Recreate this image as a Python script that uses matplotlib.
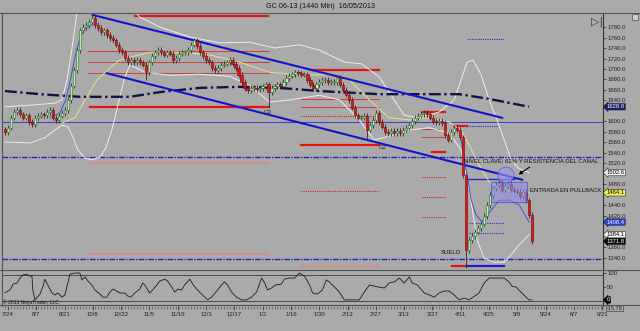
import numpy as np
import matplotlib
matplotlib.use("Agg")
import matplotlib.pyplot as plt
from matplotlib.patches import Rectangle, Ellipse
from matplotlib.lines import Line2D

plt.rcParams['font.family'] = ['Liberation Sans', 'DejaVu Sans']

# --- data (GC 06-13, daily bars) ---
closes = [1580, 1588, 1607, 1618, 1622, 1614, 1607, 1612, 1599, 1595,
          1607, 1611, 1614, 1612, 1618, 1622, 1607, 1603, 1611, 1616,
          1622, 1641, 1668, 1698, 1736, 1774, 1780, 1784, 1790, 1797,
          1784, 1778, 1770, 1774, 1765, 1759, 1755, 1746, 1736, 1732,
          1721, 1713, 1717, 1713, 1717, 1713, 1708, 1694, 1713, 1725,
          1732, 1736, 1732, 1727, 1732, 1729, 1717, 1721, 1729, 1732,
          1732, 1736, 1746, 1755, 1744, 1732, 1725, 1717, 1713, 1702,
          1698, 1702, 1708, 1710, 1713, 1717, 1710, 1702, 1689, 1675,
          1664, 1660, 1664, 1664, 1662, 1664, 1667, 1671, 1656, 1664,
          1667, 1671, 1667, 1675, 1683, 1687, 1690, 1694, 1692, 1689,
          1690, 1679, 1670, 1664, 1671, 1675, 1679, 1679, 1675, 1675,
          1675, 1683, 1670, 1660, 1651, 1641, 1626, 1612, 1607, 1607,
          1611, 1584, 1593, 1603, 1616, 1599, 1590, 1580, 1578, 1582,
          1578, 1582, 1578, 1584, 1588, 1593, 1601, 1607, 1611, 1614,
          1616, 1614, 1607, 1601, 1599, 1601, 1597, 1574, 1565, 1580,
          1588, 1584, 1570, 1498, 1355, 1374, 1382, 1390, 1397, 1405,
          1420, 1441, 1460, 1473, 1479, 1483, 1470, 1477, 1481, 1470,
          1468, 1466, 1458, 1466, 1450, 1422, 1371.8]
first_open = 1585
low_spikes = {47: 1679, 88: 1626, 121: 1564, 154: 1321}

# indicator curves (bar index, price)
ma_x = [0, 11.7, 25, 41.7, 51.7, 65, 78.3, 91.7, 105, 125, 151.7, 161.7, 175]
ma_y = [1658, 1652, 1647, 1647, 1656, 1664, 1666, 1664, 1658, 1652, 1652, 1643, 1628]

bb_up_x = [0, 8.3, 16.7, 19, 20.7, 22.3, 24, 28, 34, 40, 45, 51.7, 61.7, 71.7, 81.7, 90,
           98.3, 105, 113.3, 119, 125, 129.3, 133.3, 138.3, 145, 150, 152.3, 154.3,
           156.3, 159, 161.7, 164.3, 166.7, 169, 171.7, 175]
bb_up_y = [1628, 1631, 1635, 1641, 1679, 1736, 1807, 1850, 1860, 1830, 1799, 1780, 1761,
           1750, 1751, 1740, 1746, 1736, 1713, 1710, 1685, 1647, 1612, 1607, 1618, 1641,
           1679, 1713, 1717, 1689, 1641, 1603, 1565, 1527, 1510, 1502.6]
bb_lo_x = [0, 8.3, 13.3, 16.7, 19, 21, 22.7, 24.3, 26.7, 29, 31.7, 33.7, 35.7, 37.7, 39.7,
           41.7, 46.7, 55, 65, 75, 81.7, 88.3, 95, 105, 111.7, 118.3, 123.3, 130, 135,
           141.7, 148.3, 152.3, 155, 157.7, 160, 163.3, 166.7, 169, 171.7, 175]
bb_lo_y = [1561, 1559, 1569, 1584, 1593, 1590, 1570, 1546, 1530, 1527, 1532, 1550, 1584,
           1631, 1679, 1708, 1694, 1688, 1690, 1686, 1669, 1637, 1641, 1650, 1641, 1603,
           1565, 1574, 1584, 1588, 1578, 1546, 1470, 1374, 1340, 1332, 1332, 1346, 1365, 1384.1]
bb_mid_x = [19, 23.3, 26.7, 30.7, 35, 38.3, 48.3, 58.3, 68.3, 78.3, 88.3, 98.3, 108.3, 115,
            121.7, 128.3, 135, 141.7, 148.3, 152.3, 155, 158.3, 161.7, 166.7, 171.7, 175]
bb_mid_y = [1597, 1607, 1641, 1679, 1702, 1717, 1732, 1732, 1727, 1713, 1694, 1689, 1689,
            1679, 1641, 1607, 1603, 1607, 1599, 1584, 1555, 1517, 1485, 1470, 1466, 1464.1]
fast_a_x = [15, 18.3, 20.3, 22, 23.7, 25.3, 27.3, 30]
fast_a_y = [1607, 1616, 1641, 1683, 1732, 1763, 1780, 1786]
fast_b_x = [152.3, 154, 155.7, 157.3, 159.3, 161.7, 165, 168.3, 171.7, 175]
fast_b_y = [1565, 1508, 1450, 1422, 1409, 1426, 1450, 1450, 1441, 1408.4]

# channel (bar, price)
chan_top = [(29.3, 1803), (166, 1607)]
chan_bot = [(34, 1692), (172.7, 1489)]

# horizontal levels: price, from bar, to bar, kind
levels = [
    (1801, 43.3, 87.7, 'thick'), (1734, 27.7, 88.3, 'thin'), (1713, 27.7, 88.3, 'thin'),
    (1692, 27.7, 88.3, 'thin'), (1628, 28.3, 87.7, 'thick'), (1521, 28.3, 87.7, 'pink'),
    (1348, 27.7, 87.7, 'pink'),
    (1698, 102.3, 125, 'thick'), (1643, 99, 125, 'thin'), (1628, 99, 125, 'thin'),
    (1610, 99, 125, 'dot'), (1555, 99, 125, 'thick'), (1468, 99, 125, 'dot'),
    (1325, 99, 125, 'pink'),
    (1618, 139.3, 147, 'thick'), (1586, 139.3, 145, 'thin'), (1571, 139.3, 147, 'thin'),
    (1542, 142.7, 147, 'thick'), (1494, 139.3, 147.3, 'dot'), (1456, 139.3, 147.3, 'dot'),
    (1418, 139.3, 147.3, 'dot'),
    (1591, 150, 154.3, 'thick'), (1591, 154.3, 164.3, 'bluedot'),
    (1407, 155, 166.7, 'bluedot'), (1388, 155, 166.7, 'bluedot'),
    (1325, 149.3, 154.3, 'thick'), (1325, 154.3, 166.7, 'bluethick'),
    (1490, 154, 170, 'blue'), (1757, 154.3, 166.7, 'bluedot'),
]
full_levels = [(1599, 'bluefull'), (1532, 'bluedash'), (1338, 'bluedash')]

badge_vals = [1628.0, 1502.6, 1464.1, 1408.4, 1384.1, 1371.8]
badge_fc = ['#1c1c6e', '#f4f4f4', '#f2f25a', '#2a3fd6', '#f4f4f4', '#080808']
badge_tc = ['white', 'black', 'black', 'white', 'black', 'white']

# price ticks hidden behind the value badges
price_ticks = [1340, 1360, 1420, 1440, 1480, 1520, 1540, 1560, 1580, 1600, 1640,
               1660, 1680, 1700, 1720, 1740, 1760, 1780]

# oscillator
osc_x = [0, 1.7, 2.7, 4, 5, 6, 7.3, 8.3, 9, 9.3, 10, 11.7, 12.7, 13.3, 14.3, 15.7, 16.7,
         17.7, 19, 20, 21.7, 23.3, 25, 25.7, 26.7, 27.7, 29, 30, 31.7, 32.7, 34, 35, 36,
         37.3, 38.3, 40, 41, 42, 43.3, 45, 46, 46.7, 48.3, 49.3, 50.7, 51.7, 53.3, 54.3,
         55.7, 56.7, 57.7, 59, 60, 61.7, 62.7, 64, 65, 66.7, 67.7, 69, 71, 72.3, 73.3,
         74.3, 75.7, 77.3, 79, 80.7, 82.3, 84, 85.7, 86.7, 87.7, 89, 90.3, 92.3, 93.3, 95,
         96.7, 98.3, 100, 101.7, 102.7, 104.3, 106, 107.3, 108.3, 109.3, 110.7, 111.7,
         113.3, 118.3, 120, 121.7, 123.3, 125, 126.7, 128.3, 130, 131.7, 133.3, 135, 136,
         137.7, 140, 141.7, 143.3, 145, 146.7, 148.3, 150, 151.7, 153.3, 155, 158.3, 160,
         161.7, 166.7, 168.3, 169.3, 170.7, 172.3, 174, 175, 176]
osc_v = [29, 39, 60, 64, 82, 93, 96, 89, 89, 39, 3, 24, 53, 78, 57, 28, 21, 28, 13, 21, 96,
         100, 100, 75, 86, 71, 57, 39, 24, 13, 13, 31, 42, 35, 28, 28, 17, 13, 28, 42, 64,
         57, 28, 39, 57, 71, 78, 71, 49, 31, 42, 39, 57, 78, 60, 42, 31, 13, 3, 13, 39, 57,
         68, 57, 31, 13, 3, 3, 13, 31, 82, 64, 39, 46, 57, 60, 78, 82, 82, 100, 89, 57, 28,
         24, 39, 75, 68, 57, 42, 31, 3, 3, 31, 57, 53, 49, 46, 64, 68, 82, 64, 86, 64, 57,
         28, 21, 13, 28, 35, 35, 21, 3, 10, 3, 28, 64, 82, 82, 68, 53, 49, 31, 13, 3, 3]

date_labels = ['7/24', '8/7', '8/21', '10/8', '10/22', '11/5', '11/19', '12/3', '12/17',
               '1/2', '1/16', '1/30', '2/13', '2/27', '3/13', '3/27', '4/11', '4/25',
               '5/9', '5/24', '6/7', '6/21']

# --- figure ---
BG = '#aaaaaa'
W, H = 640, 331
fig = plt.figure(figsize=(W / 100, H / 100), dpi=100, facecolor=BG)


def box(x0, y0, x1, y1):
    return [x0 / W, 1 - y1 / H, (x1 - x0) / W, (y1 - y0) / H]


ax = fig.add_axes(box(2, 13, 603, 270))
osc = fig.add_axes(box(2, 270, 603, 306), sharex=ax)
for a in (ax, osc):
    a.set_facecolor(BG)
    for s in ('top', 'bottom'):
        a.spines[s].set_visible(False)
    a.spines['left'].set_color('#555555')
    a.spines['right'].set_color('#333333')
    a.spines['left'].set_linewidth(0.8)
    a.spines['right'].set_linewidth(0.8)

n = len(closes)
idx = np.arange(n)
c = np.array(closes, dtype=float)
o = np.concatenate([[first_open], c[:-1]])
hi = np.maximum(o, c) + 5
lo = np.minimum(o, c) - 5
for k, v in low_spikes.items():
    lo[k] = v
body_lo = np.minimum(o, c)
body_h = np.maximum(np.abs(c - o), 2.0)
up = c >= o

# levels
styles = {
    'thick': dict(color='#e31414', lw=1.6, ls='-'),
    'thin': dict(color='#d23c3c', lw=0.7, ls='-'),
    'pink': dict(color='#d88a8a', lw=1.3, ls='-'),
    'dot': dict(color='#d52020', lw=0.8, ls=(0, (1, 1))),
    'bluedot': dict(color='#2a2ad0', lw=0.8, ls=(0, (1, 1))),
    'bluethick': dict(color='#1a1ad0', lw=1.6, ls='-'),
    'blue': dict(color='#2a2ad8', lw=1.0, ls='-'),
    'bluefull': dict(color='#3a3ac8', lw=0.7, ls='-'),
    'bluedash': dict(color='#2222cc', lw=1.0, ls=(0, (4, 1, 1, 1))),
}
for price, x0, x1, kind in levels:
    ax.plot([x0, x1], [price, price], zorder=2, **styles[kind])
for price, kind in full_levels:
    ax.axhline(price, zorder=2, **styles[kind])

# bands and averages
ax.plot(bb_up_x, bb_up_y, color='#eeeeee', lw=0.7, zorder=2)
ax.plot(bb_lo_x, bb_lo_y, color='#eeeeee', lw=0.7, zorder=2)
ax.plot(bb_mid_x, bb_mid_y, color='#e6e08a', lw=0.7, zorder=2)
ax.plot(fast_a_x, fast_a_y, color='#4050d8', lw=0.7, zorder=5)
ax.plot(fast_b_x, fast_b_y, color='#4050d8', lw=0.7, zorder=5)
ax.plot(ma_x, ma_y, color='#12124a', lw=1.7, ls=(0, (5, 1.5, 1, 1.5)), zorder=3)

# channel
for seg in (chan_top, chan_bot):
    xs, ys = zip(*seg)
    ax.plot(xs, ys, color='#1515c8', lw=1.5, zorder=3)

# candles
ax.vlines(idx, lo, hi, color='#2a2a2a', lw=0.6, zorder=4)
ax.bar(idx[up], body_h[up], bottom=body_lo[up], width=0.72, color='#bfe8b6',
       edgecolor='#2f6f2f', linewidth=0.4, zorder=5)
ax.bar(idx[~up], body_h[~up], bottom=body_lo[~up], width=0.72, color='#d21a1a',
       edgecolor='#7a0000', linewidth=0.4, zorder=5)

# annotations
ax.add_patch(Rectangle((162.3, 1447), 12, 38, fc='#8c8cf0', ec='#3a3ad8', lw=0.8,
                       alpha=0.55, zorder=6))
ax.add_patch(Ellipse((167.3, 1498), 5.4, 30, fc='#9a9af0', ec='#4a4ae0', lw=0.7,
                     alpha=0.6, zorder=6))
ax.annotate('', xy=(170.7, 1496), xytext=(176, 1516),
            arrowprops=dict(arrowstyle='-|>', color='black', lw=0.8, mutation_scale=5),
            zorder=7)
tk = dict(fontsize=4.3, color='#111111', zorder=8)
ax.text(153.3, 1523, 'NIVEL CLAVE: 62% Y RESISTENCIA DEL CANAL', ha='left', va='center', **tk)
ax.text(175.2, 1468, 'ENTRADA EN PULLBACK', ha='left', va='center', **tk)
ax.text(152.3, 1350, 'SUELO', ha='right', va='center', **tk)
ax.text(87.7, 1617, 'G3', ha='center', va='center', fontsize=4.3, color='#222222')
ax.text(126, 1551, 'G2', ha='center', va='center', fontsize=4.3, color='#222222')

ax.set_xlim(-1, 199.7)
ax.set_ylim(1317, 1806.7)
ax.yaxis.tick_right()
ax.set_yticks(price_ticks)
ax.set_yticklabels(['%.1f' % v for v in price_ticks])
ax.tick_params(axis='y', labelsize=4.3, length=2, pad=1, colors='#222222', width=0.5)
ax.tick_params(axis='x', bottom=False, labelbottom=False)

for val, fc, tc in zip(badge_vals, badge_fc, badge_tc):
    ax.text(1.006, val, '%.1f' % val, transform=ax.get_yaxis_transform(), ha='left',
            va='center', fontsize=4.2, color=tc, clip_on=False, zorder=10,
            bbox=dict(boxstyle='larrow,pad=0.12', fc=fc, ec='#222222', lw=0.4))

# oscillator panel
osc.plot(osc_x, osc_v, color='#1a1a1a', lw=0.6, zorder=3)
osc.axhline(93, color='#4a4a4a', lw=0.7)
osc.axhline(0, color='#4a4a4a', lw=0.7)
osc.set_ylim(-19, 111)
osc.yaxis.tick_right()
osc.set_yticks([50, 100])
osc.set_yticklabels(['50', '100'])
osc.tick_params(axis='y', labelsize=4.3, length=2, pad=1, colors='#222222', width=0.5)
osc.text(1.006, 3, '0', transform=osc.get_yaxis_transform(), ha='left', va='center',
         fontsize=4.2, color='white', clip_on=False, zorder=10,
         bbox=dict(boxstyle='larrow,pad=0.12', fc='#080808', ec='#080808', lw=0.4))
osc.text(1.006, -18, '-15.78', transform=osc.get_yaxis_transform(), ha='left', va='top',
         fontsize=4.0, color='#222222', clip_on=False,
         bbox=dict(boxstyle='square,pad=0.1', fc='none', ec='#333333', lw=0.4))
osc.text(0.002, -17, '\u00a9 2013 NinjaTrader, LLC', transform=osc.get_yaxis_transform(),
         ha='left', va='bottom', fontsize=3.6, color='#111111')

tick_pos = [1 + 9.45 * k for k in range(len(date_labels))]
osc.set_xticks(tick_pos)
osc.set_xticklabels(date_labels)
osc.set_xticks(np.arange(0, 200, 1.0), minor=True)
osc.tick_params(axis='x', which='major', labelsize=4.3, length=3, pad=1.5,
                colors='#222222', width=0.5)
osc.tick_params(axis='x', which='minor', length=2, width=0.4, color='#444444')

# frame lines across the whole window
for y in (13, 270, 305):
    fig.add_artist(Line2D([0, 1], [1 - y / H, 1 - y / H], color='#555555', lw=0.8))

fig.text(0.5, 1 - 7 / H, 'GC 06-13 (1440 Min)  16/05/2013', ha='center', va='center',
         fontsize=5.2, color='#111111')
fig.text(597 / W, 1 - 22 / H, '\u25b7|', ha='center', va='center', fontsize=8,
         color='#333333', family=['DejaVu Sans'])
fig.add_artist(Rectangle((632 / W, 1 - 20 / H), 6 / W, 6 / H, fc='#cccccc', ec='#555555',
                         lw=0.5, transform=fig.transFigure))

fig.savefig('out.png', dpi=100, facecolor=BG)
